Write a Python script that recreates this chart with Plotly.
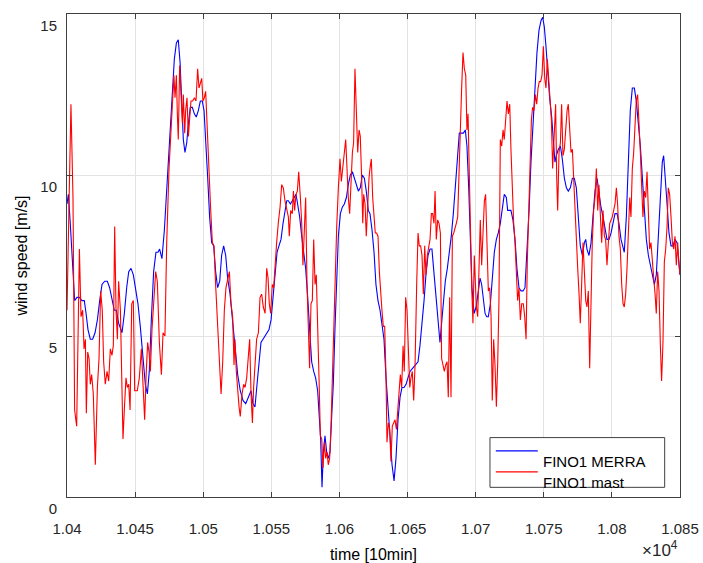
import plotly.graph_objects as go

# ---------------- data ----------------
mast_t = [10400.0, 10402.9, 10404.4, 10405.6, 10407.1, 10409.1, 10410.3, 10411.5, 10412.5, 10413.5,
          10414.2, 10415.2, 10416.2, 10417.1, 10418.1, 10419.3, 10420.8, 10422.3, 10423.5, 10424.7,
          10425.9, 10426.9, 10428.1, 10429.4, 10430.6, 10431.8, 10433.0, 10434.0, 10435.0, 10436.0,
          10437.0, 10437.9, 10439.2, 10440.1, 10441.1, 10442.3, 10443.3, 10444.3, 10445.3, 10446.3,
          10447.5, 10448.7, 10449.7, 10451.6, 10453.1, 10454.6, 10455.8, 10457.0, 10458.0, 10459.2,
          10460.2, 10461.2, 10462.4, 10463.6, 10465.1, 10466.3, 10467.8, 10469.3, 10470.5,
          10471.9, 10473.2, 10474.9, 10475.9, 10477.3, 10478.5, 10479.3, 10480.3, 10481.0, 10481.7,
          10482.7, 10483.7, 10484.7, 10485.4, 10486.4, 10487.1, 10488.1, 10489.1, 10490.1, 10491.0,
          10492.3, 10493.5, 10494.7, 10495.9, 10496.9, 10497.9, 10498.9, 10499.8, 10500.8, 10501.8,
          10503.0, 10504.2, 10505.5, 10506.7, 10507.9, 10509.1, 10510.1, 10511.1, 10512.1, 10513.1,
          10514.3, 10515.5, 10516.7, 10517.9, 10519.2, 10520.4, 10521.6, 10522.6, 10523.3, 10524.3,
          10525.3, 10526.3, 10527.2, 10528.5, 10529.7, 10530.7, 10531.9, 10533.1, 10534.1, 10535.1,
          10536.1, 10537.0, 10538.0, 10539.2, 10540.5, 10541.7, 10542.9, 10544.1, 10545.4,
          10546.6, 10547.6, 10548.5, 10549.5, 10550.7, 10551.7, 10552.7, 10553.9, 10555.1, 10556.4,
          10557.6, 10558.8, 10560.0, 10561.3, 10562.5, 10563.2, 10564.2, 10565.4, 10566.2, 10567.1,
          10568.1, 10569.1, 10570.1, 10571.3, 10572.3, 10573.2, 10574.2, 10575.2, 10576.2, 10577.2,
          10578.1, 10579.1, 10580.1, 10581.1, 10582.1, 10583.0, 10584.0, 10585.0, 10586.0, 10587.0,
          10587.9, 10588.9, 10589.9, 10590.9, 10591.8, 10592.8, 10593.8, 10594.8, 10595.8, 10596.7,
          10598.0, 10599.2, 10600.4, 10601.4, 10602.6, 10603.6, 10604.6, 10605.5, 10606.5, 10607.5,
          10608.5, 10609.5, 10610.4, 10611.4, 10612.4, 10613.4, 10614.4, 10615.3, 10616.3, 10617.1,
          10617.8, 10618.8, 10619.7, 10620.7, 10621.7,
          10622.4, 10623.4, 10624.4, 10625.4, 10626.3, 10627.3, 10628.3, 10629.3, 10630.3, 10631.2,
          10632.2, 10633.2, 10634.2, 10634.9, 10635.9, 10636.9, 10637.8, 10638.8, 10639.8, 10640.8,
          10641.8, 10642.7, 10643.7, 10644.7, 10645.7, 10646.7, 10647.6, 10648.6, 10649.6, 10650.6,
          10651.6, 10652.5, 10653.5, 10654.5, 10655.5, 10656.7, 10657.7, 10658.6, 10659.6, 10660.6,
          10661.6, 10662.6, 10663.5, 10664.5, 10665.5, 10666.5, 10667.5, 10668.4, 10669.4, 10670.2,
          10671.1, 10672.1, 10673.1, 10674.1, 10675.0, 10676.0, 10677.0, 10678.0, 10679.0, 10679.9,
          10680.9, 10681.9, 10682.9, 10683.9, 10684.8, 10685.8, 10686.8, 10687.8, 10688.7, 10689.7,
          10690.7, 10691.7, 10692.7, 10693.6, 10694.4, 10695.1, 10696.1, 10697.1, 10698.0, 10699.0,
          10700.5, 10701.5, 10702.5, 10703.4, 10704.4, 10705.4, 10706.4, 10707.3, 10708.3, 10709.3,
          10710.3, 10711.3, 10712.2, 10713.2, 10714.2, 10715.2, 10716.2, 10717.1, 10718.1, 10719.1,
          10720.1, 10721.0, 10722.0, 10723.0, 10724.0, 10725.0, 10725.9, 10726.9, 10727.9, 10728.9,
          10729.9, 10730.8, 10731.8, 10732.8, 10733.8, 10735.0, 10736.0, 10737.0, 10737.9, 10738.9,
          10739.9, 10740.9, 10741.8, 10742.8, 10743.8, 10744.8, 10745.8, 10746.7, 10747.7, 10748.7,
          10749.7, 10750.7, 10751.6, 10752.6, 10753.6, 10754.6, 10755.6, 10756.5, 10757.3, 10758.0,
          10758.7, 10759.5, 10760.2, 10761.2, 10762.2, 10763.1, 10764.1, 10765.1, 10766.1, 10767.1,
          10768.0, 10769.0, 10770.0, 10771.0, 10771.9,
          10772.9, 10773.9, 10774.9, 10775.9, 10776.8, 10777.8, 10778.8, 10779.8, 10780.8, 10781.7,
          10782.7, 10783.7, 10784.7, 10785.6, 10786.6, 10787.6, 10788.6, 10789.6, 10790.5, 10791.5,
          10792.5, 10793.5, 10794.5, 10795.4, 10796.4, 10797.4, 10798.4, 10799.4, 10800.3, 10801.3,
          10802.3, 10803.3, 10804.2, 10805.2, 10806.2, 10807.2, 10808.2, 10809.1, 10810.1, 10811.1,
          10812.1, 10813.1, 10814.0, 10815.0, 10816.0, 10817.0, 10817.9, 10818.9, 10819.9, 10820.9,
          10821.9, 10822.8, 10823.8, 10824.8, 10825.8, 10826.8, 10827.7, 10828.7, 10829.7, 10830.7,
          10831.7, 10832.6, 10833.6, 10834.6, 10835.6, 10836.5, 10837.5, 10838.5, 10839.5, 10840.5,
          10841.4, 10842.4, 10843.4, 10844.4, 10845.4, 10846.3, 10847.3, 10848.3, 10849.3, 10850.0]

mast_ws = [5.8, 12.2, 9.3, 2.7, 2.2, 7.7, 5.6, 5.8, 4.6, 4.9,
           2.6, 4.5, 4.3, 3.5, 3.8, 3.2, 1.0, 3.4, 4.3, 6.4,
           5.8, 4.2, 3.5, 3.9, 3.6, 4.6, 4.4, 4.7, 8.4, 5.8,
           4.9, 6.7, 5.8, 3.9, 1.8, 2.9, 3.7, 3.4, 3.5, 2.7,
           6.0, 6.1, 3.3, 3.3, 3.7, 4.6, 3.7, 2.4, 3.7, 4.8,
           4.5, 3.9, 5.2, 6.2, 7.0, 6.7, 4.8, 3.8, 5.1,
           5.0, 7.9, 10.2, 11.1, 12.5, 13.1, 12.4, 13.1, 11.9, 11.1,
           13.4, 12.2, 11.6, 12.5, 11.3, 12.0, 12.4, 11.2, 11.9, 12.3,
           12.3, 12.4, 12.3, 13.3, 12.7, 12.9, 13.0, 12.3, 12.4, 12.6,
           11.3, 10.5, 8.9, 7.9, 7.8, 6.6, 5.8, 5.2, 4.2, 3.2,
           4.2, 5.8, 6.5, 6.7, 7.0, 6.0, 5.6, 4.1, 4.9, 3.9,
           3.2, 2.8, 2.5, 3.2, 3.5, 3.4, 3.7, 4.3, 4.9, 3.2,
           2.3, 3.4, 4.1, 4.9, 5.1, 6.2, 6.3, 5.9, 5.7,
           7.1, 6.8, 6.0, 5.7, 6.6, 6.5, 7.3, 7.9, 8.5, 9.0,
           9.7, 9.6, 9.2, 8.9, 8.7, 8.1, 8.9, 8.8, 9.5, 8.9,
           9.4, 9.5, 10.1, 9.3, 8.5, 7.2, 8.3, 9.3, 6.6, 5.2,
           4.0, 6.0, 6.1, 8.0, 6.6, 6.9, 5.5, 3.7, 1.9, 1.8,
           0.9, 1.7, 1.2, 1.4, 1.0, 1.2, 2.2, 3.7, 5.3, 6.8,
           8.4, 9.6, 10.5, 9.8, 10.2, 10.7, 11.1, 9.9, 9.3, 8.8,
           9.9, 10.7, 11.0, 13.3, 12.0, 10.7, 11.4, 11.2, 9.9, 8.5,
           9.4, 9.1, 8.1, 9.1, 9.9,
           10.2, 10.5, 9.3, 8.7, 8.2, 8.2, 8.1, 7.0, 6.2, 5.8,
           5.3, 5.3, 3.7, 1.7, 2.3, 2.1, 1.1, 2.2, 2.3, 2.4,
           2.1, 2.7, 3.4, 3.8, 3.4, 4.7, 3.9, 6.2, 5.8, 4.6,
           3.4, 3.7, 3.9, 3.0, 4.1, 6.6, 8.2, 7.8, 7.8, 7.5,
           6.3, 7.8, 6.9, 7.5, 7.7, 8.0, 8.8, 8.8, 8.5, 9.5,
           8.0, 8.6, 8.5, 8.2, 4.3, 4.1, 3.9, 4.1, 4.2, 3.1,
           6.2, 3.1, 8.1, 8.2, 8.4, 8.5, 8.7, 10.4, 11.6, 12.7,
           13.8, 13.3, 13.1, 11.4, 11.9, 10.8, 8.5, 6.5, 5.4, 7.5,
           5.9, 5.6, 7.2, 8.6, 7.2, 8.5, 9.2, 9.4, 7.7, 6.4,
           6.5, 5.6, 3.0, 4.9, 4.1, 2.8, 4.2, 6.1, 11.1, 10.9,
           11.4, 11.1, 11.7, 12.3, 11.9, 12.2, 10.8, 9.3, 8.5, 7.9,
           7.0, 6.1, 6.5, 5.5, 6.0, 6.0, 5.6, 4.9, 7.3, 9.0,
           10.5, 11.7, 12.1, 12.0, 12.5, 12.2, 12.7, 12.9, 12.9, 13.1,
           14.0, 13.0, 12.7, 13.6, 13.0, 12.2, 11.7, 10.2, 10.8, 11.4,
           12.2, 9.9, 8.9, 10.7, 11.0, 12.2, 10.6, 10.8, 11.4, 12.0,
           12.2, 11.5, 10.7, 10.8, 9.9,
           8.7, 7.9, 7.1, 6.3, 5.4, 6.6, 7.9, 7.0, 6.1, 5.9,
           6.4, 4.0, 6.5, 7.9, 8.9, 9.3, 10.2, 8.9, 9.7, 8.6,
           7.9, 8.9, 8.1, 8.0, 7.2, 7.9, 8.5, 8.6, 8.7, 8.9,
           9.1, 9.6, 9.1, 8.1, 7.7, 6.6, 6.0, 5.9, 6.3, 7.1,
           8.5, 9.3, 8.7, 10.2, 10.7, 11.8, 12.3, 12.5, 11.7, 10.7,
           9.6, 8.7, 9.5, 9.3, 10.1, 8.5, 7.7, 7.9, 7.2, 6.8,
           6.3, 5.7, 7.0, 6.4, 4.7, 3.6, 4.8, 7.3, 7.7, 8.4,
           9.6, 9.4, 8.7, 7.9, 7.7, 8.1, 7.2, 7.9, 7.2, 6.9]

merra_t = [10400.0, 10401.0, 10402.4, 10404.2, 10405.6, 10407.3, 10409.1, 10411.0, 10412.7, 10414.0,
           10415.4, 10417.1, 10418.8, 10420.6, 10422.3, 10424.0, 10425.7, 10427.7, 10429.6, 10431.3,
           10433.0, 10434.7, 10436.2, 10437.9, 10440.4, 10442.1, 10443.8, 10445.3, 10447.0, 10448.7,
           10450.2, 10452.1, 10453.8, 10455.6, 10457.5, 10459.0, 10460.4, 10461.9, 10463.6, 10465.3,
           10466.8, 10468.0, 10469.7, 10471.5,
           10473.9, 10475.6, 10477.3, 10478.8, 10480.3, 10481.7, 10483.0, 10484.2, 10485.4, 10486.6,
           10487.9, 10489.1, 10490.5, 10492.0, 10493.5, 10494.9, 10496.4, 10497.9, 10499.3, 10500.6,
           10501.8, 10503.3, 10504.7, 10506.2, 10507.7, 10509.1, 10510.6, 10512.1, 10513.5, 10515.0,
           10516.5, 10517.9, 10519.7, 10521.4, 10523.3, 10525.3, 10527.2, 10529.2, 10531.2, 10533.1,
           10535.1, 10536.5, 10538.0, 10539.5, 10541.0, 10542.4, 10543.9, 10545.4, 10546.8,
           10548.3, 10549.8, 10551.2, 10552.7, 10554.2, 10555.6, 10557.1, 10558.6, 10560.0, 10561.3,
           10562.5, 10564.0, 10565.4, 10566.9, 10568.1, 10569.3, 10570.8, 10572.3, 10573.7, 10575.2,
           10576.7, 10578.1, 10579.6, 10581.1, 10582.5, 10584.0, 10585.2, 10586.2, 10587.2, 10588.2,
           10589.4, 10590.6, 10591.8, 10593.1, 10594.3, 10595.5, 10596.7, 10598.0, 10599.2, 10600.7,
           10602.1, 10603.6, 10605.1, 10606.5, 10608.0, 10609.5, 10610.9, 10612.4, 10613.9, 10615.3,
           10616.8, 10618.3, 10619.7, 10621.2,
           10622.4, 10623.9, 10625.4, 10626.8, 10628.3, 10629.8, 10631.2, 10632.7, 10634.2, 10635.6,
           10637.1, 10638.6, 10640.1, 10641.5, 10643.0, 10644.5, 10645.9, 10647.4, 10648.9, 10650.3,
           10651.8, 10653.8, 10655.7, 10657.7, 10659.1, 10660.6, 10662.1, 10663.5, 10665.0, 10666.5,
           10667.9, 10668.9, 10670.2, 10671.4, 10672.6, 10673.8, 10675.0, 10676.3, 10677.7, 10679.2,
           10680.7, 10682.1, 10683.6, 10685.1, 10686.5, 10688.0, 10689.5, 10691.0, 10692.4, 10693.6,
           10694.9, 10696.1, 10697.3, 10698.8, 10700.3,
           10702.0, 10703.2, 10704.4, 10705.6, 10706.9, 10708.1, 10709.3, 10710.8, 10712.2, 10713.7,
           10715.2, 10716.6, 10718.1, 10719.6, 10721.0, 10722.5, 10723.5, 10725.0, 10725.9, 10727.4,
           10728.9, 10730.3, 10731.8, 10733.3, 10734.8, 10736.2, 10737.7, 10739.2, 10740.6, 10742.1,
           10743.6, 10745.0, 10746.5, 10748.0, 10749.2, 10750.4, 10751.6, 10752.9, 10754.3, 10755.8,
           10757.3, 10758.2, 10759.2, 10760.7, 10762.2, 10763.6, 10765.1, 10766.6, 10768.0, 10769.5,
           10771.0, 10772.4,
           10773.9, 10774.9, 10775.9, 10776.8, 10778.3, 10779.8, 10780.8, 10781.7, 10783.2, 10784.7,
           10786.1, 10787.6, 10789.1, 10790.5, 10792.0, 10793.5, 10794.9, 10796.4, 10797.9, 10799.4,
           10800.8, 10802.3, 10803.8, 10805.2, 10806.7, 10808.2, 10809.1, 10810.6, 10812.1, 10813.5,
           10815.0, 10816.5, 10817.9, 10819.4, 10820.9, 10822.4, 10823.8, 10825.3, 10826.8, 10828.2,
           10829.7, 10831.2, 10832.6, 10834.1, 10835.6, 10837.0, 10838.0, 10839.0, 10840.5, 10841.9,
           10843.4, 10844.9, 10846.3, 10847.8, 10849.3, 10850.0]

merra_ws = [9.1, 9.4, 8.5, 7.0, 6.1, 6.2, 6.2, 6.1, 6.1, 5.7,
            5.2, 4.9, 4.9, 5.1, 5.5, 6.1, 6.6, 6.7, 6.7, 6.5,
            6.1, 5.8, 5.8, 5.4, 5.1, 5.7, 6.5, 7.0, 7.1, 6.9,
            6.5, 6.0, 5.3, 4.5, 3.5, 3.2, 3.9, 5.5, 7.0, 7.6,
            7.6, 7.7, 7.4, 8.3,
            10.1, 11.5, 12.8, 13.6, 14.1, 14.2, 13.5, 12.1, 11.1, 10.7,
            11.0, 11.6, 12.1, 12.1, 11.9, 11.8, 12.0, 12.3, 12.3, 12.0,
            11.2, 9.9, 8.7, 7.9, 7.8, 7.0, 6.5, 6.7, 7.5, 7.8,
            7.5, 6.8, 6.3, 5.6, 4.6, 3.8, 3.3, 3.0, 2.9, 3.1,
            3.3, 2.9, 2.8, 3.5, 4.2, 4.8, 4.9, 5.0, 5.1,
            5.2, 5.5, 6.2, 7.0, 7.6, 7.8, 8.0, 8.5, 8.9, 9.2,
            9.2, 9.1, 9.2, 9.3, 9.4, 9.1, 8.7, 8.1, 7.6, 7.1,
            6.2, 5.2, 4.2, 3.9, 3.7, 3.3, 2.3, 1.8, 0.3, 1.4,
            1.9, 1.4, 1.2, 1.4, 2.5, 3.5, 5.2, 6.8, 8.1, 8.8,
            9.0, 9.1, 9.3, 9.7, 10.0, 10.1, 9.9, 9.7, 9.5, 9.6,
            10.0, 9.9, 9.5, 8.9,
            8.8, 8.3, 7.6, 6.6, 6.1, 5.8, 5.4, 4.9, 3.7, 2.7,
            1.9, 1.0, 0.5, 1.2, 2.4, 3.1, 3.4, 3.4, 3.5, 3.7,
            3.9, 4.0, 4.1, 4.2, 4.7, 5.3, 6.1, 6.9, 7.5, 7.7,
            7.7, 7.2, 6.5, 5.8, 5.3, 4.8, 5.4, 6.1, 6.7, 7.1,
            7.6, 8.1, 8.8, 9.6, 10.6, 11.3, 11.3, 11.3, 11.4, 10.9,
            9.6, 8.1, 6.5, 5.7, 5.9,
            6.4, 6.8, 6.6, 6.1, 5.7, 5.6, 5.6, 6.0, 6.8, 7.6,
            8.0, 8.2, 8.5, 9.0, 9.4, 9.3, 8.9, 8.9, 8.9, 8.6,
            8.0, 7.1, 6.5, 6.4, 6.4, 6.5, 7.6, 8.9, 10.4, 11.7,
            12.8, 13.8, 14.5, 14.8, 14.9, 14.6, 14.0, 13.1, 12.4, 11.8,
            11.0, 10.4, 10.6, 10.8, 10.9, 10.5, 9.9, 9.6, 9.5, 9.6,
            9.9, 9.9,
            9.6, 8.9, 8.3, 7.8, 7.5, 7.9, 8.0, 7.7, 7.5, 7.9,
            8.7, 9.5, 9.9, 9.4, 9.0, 8.7, 8.3, 8.0, 8.0, 8.2,
            8.5, 8.8, 8.8, 8.5, 8.0, 7.7, 7.6, 8.7, 10.5, 12.0,
            12.7, 12.7, 12.3, 11.6, 10.9, 9.9, 8.9, 8.0, 7.5, 7.2,
            6.9, 6.6, 6.9, 8.1, 9.5, 10.4, 10.6, 10.1, 9.1, 8.2,
            7.8, 7.8, 8.0, 7.9, 7.2, 6.9]

x_tickvals = [10400, 10450, 10500, 10550, 10600, 10650, 10700, 10750, 10800, 10850]
x_ticktext = ["1.04", "1.045", "1.05", "1.055", "1.06", "1.065", "1.07", "1.075", "1.08", "1.085"]
y_tickvals = [0, 5, 10, 15]
y_ticktext = ["0", "5", "10", "15"]
series_names = ["FINO1 MERRA", "FINO1 mast"]
series_colors = ["#0000ff", "#ff0000"]

FONT = "Liberation Sans, Arial, Helvetica, sans-serif"
AXC = "#404040"
TXT = "#262626"

fig = go.Figure()
fig.add_trace(go.Scatter(x=merra_t, y=merra_ws, mode="lines", name=series_names[0],
                         line=dict(color=series_colors[0], width=1.1), showlegend=False))
fig.add_trace(go.Scatter(x=mast_t, y=mast_ws, mode="lines", name=series_names[1],
                         line=dict(color=series_colors[1], width=1.1), showlegend=False))

fig.update_layout(
    width=703, height=563,
    margin=dict(l=67, r=23, t=14, b=66, pad=0),
    paper_bgcolor="white", plot_bgcolor="white",
    font=dict(family=FONT, size=15, color=TXT),
    xaxis=dict(range=[10400, 10850], tickvals=x_tickvals, ticktext=x_ticktext,
               automargin=False,
               showgrid=True, gridcolor="#e3e3e3", gridwidth=1,
               showline=True, linecolor=AXC, linewidth=1, mirror="ticks",
               ticks="inside", ticklen=5, tickcolor=AXC, zeroline=False,
               ticklabelstandoff=18,
               title=dict(text="time [10min]", standoff=12, font=dict(size=16, color="black"))),
    yaxis=dict(range=[0, 15], tickvals=y_tickvals, ticktext=y_ticktext,
               automargin=False,
               showgrid=True, gridcolor="#e3e3e3", gridwidth=1,
               showline=True, linecolor=AXC, linewidth=1, mirror="ticks",
               ticks="inside", ticklen=5, tickcolor=AXC, zeroline=False,
               ticklabelstandoff=6, ticklabelshift=12,
               title=dict(text="wind speed [m/s]", standoff=8, font=dict(size=16, color="black"))),
)

# exponent label
fig.add_annotation(xref="paper", yref="paper", x=1.0, y=-0.08, xanchor="right", yanchor="top",
                   text="×10<sup>4</sup>", showarrow=False, font=dict(size=17, color=TXT))

# custom legend (MATLAB-like, text offset below sample line)
lx0, lx1, ly0, ly1 = 0.690, 0.975, 0.02, 0.123
fig.add_shape(type="rect", xref="paper", yref="paper", x0=lx0, x1=lx1, y0=ly0, y1=ly1,
              line=dict(color=AXC, width=1), fillcolor="white", layer="above")
for i, (nm, col) in enumerate(zip(series_names, series_colors)):
    yl = 0.0955 - i * 0.0435
    fig.add_shape(type="line", xref="paper", yref="paper", x0=0.6995, x1=0.768, y0=yl, y1=yl,
                  line=dict(color=col, width=1.1), layer="above")
    fig.add_annotation(xref="paper", yref="paper", x=0.773, y=yl - 0.021, xanchor="left",
                       yanchor="middle", text=nm, showarrow=False,
                       font=dict(size=15, color="black"))

fig.write_html("out.html")
